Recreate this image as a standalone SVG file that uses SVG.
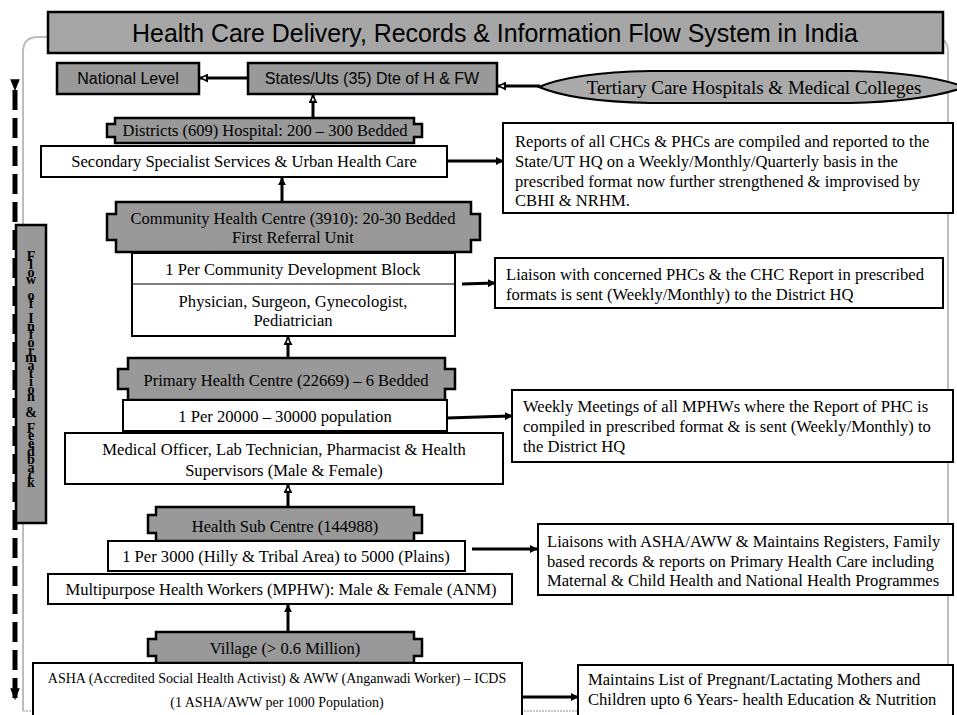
<svg xmlns="http://www.w3.org/2000/svg" width="957" height="715" viewBox="0 0 957 715">
<defs>
<style>
.sans{font-family:"Liberation Sans",Arial,sans-serif}
.serif{font-family:"Liberation Serif","Times New Roman",serif}
.box{fill:#fff;stroke:#000;stroke-width:2}
.gbox{fill:#999;stroke:#000;stroke-width:2.5}
.ban{fill:#999;stroke:#000;stroke-width:2.5}
.t{font-size:16.6px;fill:#000}
.tb{font-size:16.5px;fill:#000}
.c{text-anchor:middle}
.con{stroke:#000;stroke-width:3;fill:none}
</style>
<marker id="ah" viewBox="0 0 10 10" refX="9" refY="5" markerWidth="8" markerHeight="8" markerUnits="userSpaceOnUse" orient="auto">
<path d="M0,0 L10,5 L0,10 Z" fill="#000"/>
</marker>
<marker id="ahw" viewBox="0 0 10 10" refX="9" refY="5" markerWidth="9" markerHeight="9" markerUnits="userSpaceOnUse" orient="auto">
<path d="M0,0 L10,5 L0,10 Z" fill="#000"/>
<path d="M2.5,3.3 L6.5,5 L2.5,6.7 Z" fill="#fff"/>
</marker>
<marker id="big" viewBox="0 0 10 10" refX="9" refY="5" markerWidth="12" markerHeight="12" markerUnits="userSpaceOnUse" orient="auto">
<path d="M0,1 L10,5 L0,9 Z" fill="#000"/>
</marker>
</defs>
<rect width="957" height="715" fill="#fff"/>

<g id="frame">
<path d="M23,711 V52 Q23,37 38,37 H933 Q948,37 948,52 V711" stroke="#bdbdbd" stroke-width="2" fill="none"/>
<line x1="23" y1="711" x2="948" y2="711" stroke="#c8c8c8" stroke-width="2" stroke-dasharray="2 1"/>
</g>

<g id="title">
<rect x="48" y="12" width="895" height="41" fill="#a6a6a6" stroke="#000" stroke-width="2.5"/>
<text class="sans c" x="495" y="42" font-size="24.9">Health Care Delivery, Records &amp; Information Flow System in India</text>
</g>

<g id="feedback">
<line x1="15" y1="90" x2="15" y2="699" stroke="#000" stroke-width="5" stroke-dasharray="20 8" marker-start="url(#big)" marker-end="url(#big)"/>
<rect x="16" y="225" width="30" height="298" fill="#999" stroke="#000" stroke-width="2.5"/>
<text class="serif" x="31" y="366" font-size="14" font-weight="bold" text-anchor="middle" style="writing-mode:vertical-rl;text-orientation:upright;letter-spacing:-7.2px">Flow of Information &amp; Feedback</text>
</g>

<g id="national">
<rect class="gbox" x="57" y="63" width="142" height="31"/>
<text class="sans c" x="128" y="84" font-size="16">National Level</text>
</g>

<g id="states">
<rect class="gbox" x="248" y="63" width="249" height="31"/>
<text class="sans c" x="372" y="84" font-size="16">States/Uts (35) Dte of H &amp; FW</text>
</g>

<g id="tertiary">
<path d="M539,87 C560,78 600,72 650,71 L850,71 C905,72 940,78 965,87 C940,96 905,102 850,103 L650,103 C600,102 560,96 539,87 Z" fill="#aaa" stroke="#000" stroke-width="2"/>
<text class="serif c" x="754" y="94" font-size="19">Tertiary Care Hospitals &amp; Medical Colleges</text>
</g>

<g id="districts">
<path class="ban" d="M115,118 H414 V124 H422 V137 H414 V143 H115 V137 H107 V124 H115 Z"/>
<text class="serif tb c" x="265" y="136">Districts (609) Hospital: 200 – 300 Bedded</text>
</g>

<g id="secondary">
<rect class="box" x="41" y="146" width="406" height="31"/>
<text class="serif t c" x="244" y="167">Secondary Specialist Services &amp; Urban Health Care</text>
</g>

<g id="report-district">
<rect class="box" x="503" y="123" width="450" height="90"/>
<text class="serif t" x="515" y="147">Reports of all CHCs &amp; PHCs are compiled and reported to the</text>
<text class="serif t" x="515" y="167">State/UT HQ on a Weekly/Monthly/Quarterly basis in the</text>
<text class="serif t" x="515" y="187">prescribed format now further strengthened &amp; improvised by</text>
<text class="serif t" x="515" y="206">CBHI &amp; NRHM.</text>
</g>

<g id="chc">
<path class="ban" d="M116,202 H471 V214 H480 V240 H471 V252 H116 V240 H107 V214 H116 Z"/>
<text class="serif tb c" x="293" y="224">Community Health Centre (3910): 20-30 Bedded</text>
<text class="serif tb c" x="293" y="243">First Referral Unit</text>
</g>

<g id="chc-detail">
<rect class="box" x="132" y="253" width="323" height="83"/>
<line x1="132" y1="284" x2="455" y2="284" stroke="#000" stroke-width="1"/>
<text class="serif t c" x="293" y="275">1 Per Community Development Block</text>
<text class="serif t c" x="293" y="307">Physician, Surgeon, Gynecologist,</text>
<text class="serif t c" x="293" y="326">Pediatrician</text>
</g>

<g id="report-chc">
<rect class="box" x="495" y="258" width="448" height="50"/>
<text class="serif t" x="506" y="280">Liaison with concerned PHCs &amp; the CHC Report in prescribed</text>
<text class="serif t" x="506" y="300">formats is sent (Weekly/Monthly) to the District HQ</text>
</g>

<g id="phc">
<path class="ban" d="M128,358 H445 V369 H455 V389 H445 V400 H128 V389 H118 V369 H128 Z"/>
<text class="serif tb c" x="286" y="386">Primary Health Centre (22669) – 6 Bedded</text>
</g>

<g id="phc-pop">
<rect class="box" x="123" y="400" width="324" height="31"/>
<text class="serif t c" x="285" y="422">1 Per 20000 – 30000 population</text>
</g>

<g id="phc-staff">
<rect class="box" x="65" y="433" width="438" height="51"/>
<text class="serif t c" x="284" y="455">Medical Officer, Lab Technician, Pharmacist &amp; Health</text>
<text class="serif t c" x="284" y="476">Supervisors (Male &amp; Female)</text>
</g>

<g id="report-phc">
<rect class="box" x="512" y="390" width="441" height="72"/>
<text class="serif t" x="523" y="412">Weekly Meetings of all MPHWs where the Report of PHC is</text>
<text class="serif t" x="523" y="432">compiled in prescribed format &amp; is sent (Weekly/Monthly) to</text>
<text class="serif t" x="523" y="452">the District HQ</text>
</g>

<g id="hsc">
<path class="ban" d="M156,507 H414 V515 H422 V533 H414 V541 H156 V533 H148 V515 H156 Z"/>
<text class="serif tb c" x="285" y="532">Health Sub Centre (144988)</text>
</g>

<g id="hsc-pop">
<rect class="box" x="108" y="541" width="357" height="30"/>
<text class="serif t c" x="286" y="562">1 Per 3000 (Hilly &amp; Tribal Area) to 5000 (Plains)</text>
</g>

<g id="mphw">
<rect class="box" x="48" y="574" width="464" height="30"/>
<text class="serif t c" x="281" y="595">Multipurpose Health Workers (MPHW): Male &amp; Female (ANM)</text>
</g>

<g id="report-hsc">
<rect class="box" x="538" y="524" width="415" height="71"/>
<text class="serif t" x="547" y="547">Liaisons with ASHA/AWW &amp; Maintains Registers, Family</text>
<text class="serif t" x="547" y="567">based records &amp; reports on Primary Health Care including</text>
<text class="serif t" x="547" y="586">Maternal &amp; Child Health and National Health Programmes</text>
</g>

<g id="village">
<path class="ban" d="M156,632 H414 V639 H422 V656 H414 V663 H156 V656 H148 V639 H156 Z"/>
<text class="serif tb c" x="285" y="654">Village (&gt; 0.6 Million)</text>
</g>

<g id="asha">
<rect class="box" x="33" y="663" width="489" height="54"/>
<text class="serif c" x="277" y="683" font-size="14">ASHA (Accredited Social Health Activist) &amp; AWW (Anganwadi Worker) – ICDS</text>
<text class="serif c" x="277" y="707" font-size="14">(1 ASHA/AWW per 1000 Population)</text>
</g>

<g id="report-village">
<rect class="box" x="578" y="665" width="375" height="52"/>
<text class="serif t" x="588" y="685">Maintains List of Pregnant/Lactating Mothers and</text>
<text class="serif t" x="588" y="705">Children upto 6 Years- health Education &amp; Nutrition</text>
</g>

<g id="connectors">
<line class="con" x1="248" y1="78" x2="200" y2="78" marker-end="url(#ahw)"/>
<line class="con" x1="540" y1="86" x2="498" y2="86" marker-end="url(#ahw)"/>
<line class="con" x1="313" y1="118" x2="313" y2="95" marker-end="url(#ahw)"/>
<line class="con" x1="447" y1="161" x2="503" y2="161" marker-end="url(#ah)"/>
<line class="con" x1="282" y1="202" x2="282" y2="178" marker-end="url(#ah)"/>
<line class="con" x1="462" y1="284" x2="495" y2="283" stroke-width="4" marker-end="url(#ah)"/>
<line class="con" x1="288" y1="358" x2="288" y2="337" marker-end="url(#ahw)"/>
<line class="con" x1="447" y1="418" x2="512" y2="416" stroke-width="4" marker-end="url(#ah)"/>
<line class="con" x1="288" y1="507" x2="288" y2="485" marker-end="url(#ahw)"/>
<line class="con" x1="472" y1="549" x2="537" y2="549" marker-end="url(#ah)"/>
<line class="con" x1="288" y1="632" x2="288" y2="605" marker-end="url(#ah)"/>
<line class="con" x1="522" y1="697" x2="578" y2="697" marker-end="url(#ah)"/>
</g>
</svg>
